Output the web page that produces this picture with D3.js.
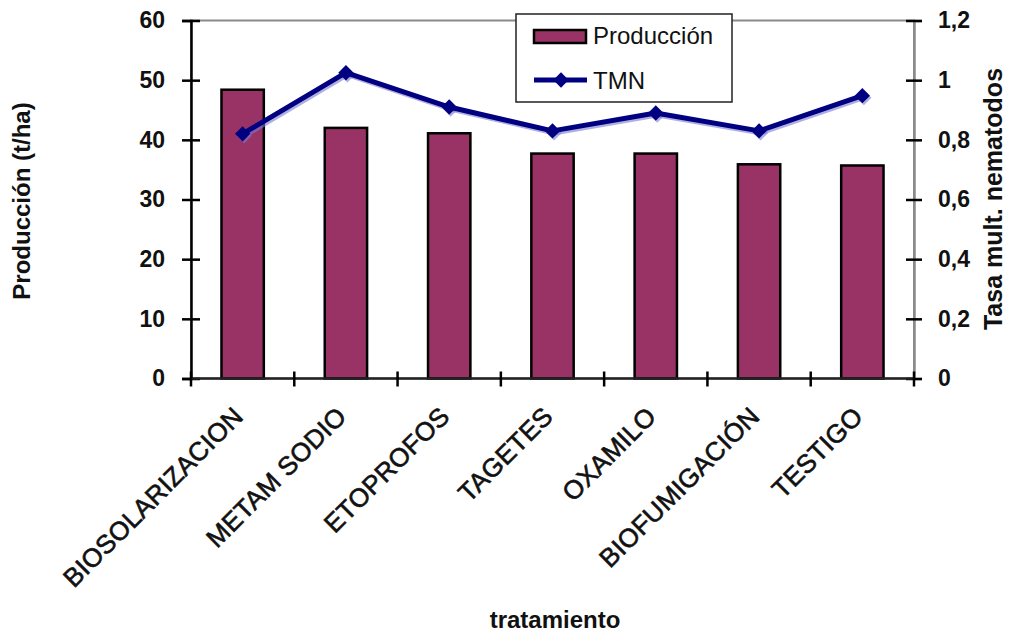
<!DOCTYPE html>
<html>
<head>
<meta charset="utf-8">
<script src="https://cdn.jsdelivr.net/npm/d3@7"></script>
<style>
  html, body { margin: 0; padding: 0; background: #fff; }
  svg { display: block; font-family: "Liberation Sans", Arial, sans-serif; }
</style>
</head>
<body>
<svg id="chart" width="1013" height="633"></svg>
<script>
// Treatments on the x axis
const categories = ["BIOSOLARIZACION", "METAM SODIO", "ETOPROFOS", "TAGETES", "OXAMILO", "BIOFUMIGACIÓN", "TESTIGO"];
// Yield per treatment (t/ha), left axis
const produccion = [48.4, 42.0, 41.1, 37.7, 37.7, 35.9, 35.7];
// Nematode multiplication rate, right axis
const tmn = [0.82, 1.025, 0.91, 0.83, 0.89, 0.83, 0.948];
// Tick values for both value axes
const leftTicks = [0, 10, 20, 30, 40, 50, 60];
const rightTicks = [0, 0.2, 0.4, 0.6, 0.8, 1.0, 1.2];

const svg = d3.select("#chart");
const plot = { left: 191, right: 914, top: 20.5, bottom: 378.5 };

const x = d3.scaleBand().domain(categories).range([plot.left, plot.right]).padding(0);
const yL = d3.scaleLinear().domain([0, 60]).range([plot.bottom, plot.top]);
const yR = d3.scaleLinear().domain([0, 1.2]).range([plot.bottom, plot.top]);

// Plot area frame
svg.append("rect")
  .attr("x", plot.left).attr("y", plot.top)
  .attr("width", plot.right - plot.left).attr("height", plot.bottom - plot.top)
  .attr("fill", "none").attr("stroke", "#8a8a8a").attr("stroke-width", 2);

// Bars
const barW = x.bandwidth() * 0.41;
svg.append("g").selectAll("rect")
  .data(categories)
  .join("rect")
  .attr("x", d => x(d) + x.bandwidth() / 2 - barW / 2)
  .attr("y", (d, i) => yL(produccion[i]))
  .attr("width", barW)
  .attr("height", (d, i) => yL(0) - yL(produccion[i]))
  .attr("fill", "#993366")
  .attr("stroke", "#000")
  .attr("stroke-width", 2.5);

// Left axis with ticks crossing the line
const axL = svg.append("g")
  .attr("transform", `translate(${plot.left},0)`)
  .call(d3.axisLeft(yL).tickValues(leftTicks).tickSize(9).tickPadding(17));
axL.select(".domain").attr("stroke", "#000").attr("stroke-width", 2.5);
axL.selectAll(".tick line").attr("x1", 9).attr("stroke", "#000").attr("stroke-width", 2.5);
axL.selectAll(".tick text")
  .attr("font-size", 23).attr("font-weight", "bold").attr("fill", "#111")
  .attr("font-family", "Liberation Sans, Arial, sans-serif");

// Right axis, decimal comma
const axR = svg.append("g")
  .attr("transform", `translate(${plot.right},0)`)
  .call(d3.axisRight(yR).tickValues(rightTicks).tickSize(8).tickPadding(16)
    .tickFormat(d => d3.format("~g")(d).replace(".", ",")));
axR.select(".domain").attr("stroke", "#8a8a8a").attr("stroke-width", 2.5);
axR.selectAll(".tick line").attr("x1", -8).attr("stroke", "#000").attr("stroke-width", 2.5);
axR.selectAll(".tick text")
  .attr("font-size", 23).attr("font-weight", "bold").attr("fill", "#111")
  .attr("font-family", "Liberation Sans, Arial, sans-serif");

// Category axis: ticks at band boundaries
const bounds = categories.map(c => x(c)).concat([plot.right]);
svg.append("line")
  .attr("x1", plot.left).attr("x2", plot.right)
  .attr("y1", plot.bottom).attr("y2", plot.bottom)
  .attr("stroke", "#222").attr("stroke-width", 2.5);
svg.append("g").selectAll("line")
  .data(bounds)
  .join("line")
  .attr("x1", d => d).attr("x2", d => d)
  .attr("y1", plot.bottom - 7).attr("y2", plot.bottom + 8)
  .attr("stroke", "#000").attr("stroke-width", 2.5);

// Rotated category labels
svg.append("g").selectAll("text")
  .data(categories)
  .join("text")
  .attr("transform", d => `translate(${x(d) + x.bandwidth() / 2 + 2},418) rotate(-45)`)
  .attr("text-anchor", "end")
  .attr("font-size", 26)
  .attr("letter-spacing", 0.2)
  .attr("fill", "#111")
  .attr("stroke", "#111").attr("stroke-width", 0.6)
  .text(d => d);

// TMN line with diamond markers
const line = d3.line()
  .x((d, i) => x(categories[i]) + x.bandwidth() / 2)
  .y(d => yR(d));
const diamond = d3.symbol().type(d3.symbolDiamond2).size(150);

const tmnG = svg.append("g");
// soft halo under the series
tmnG.append("path").datum(tmn)
  .attr("d", line).attr("transform", "translate(1.5,2)")
  .attr("fill", "none").attr("stroke", "#7a7ad0").attr("stroke-width", 5).attr("opacity", 0.6);
tmnG.append("g").selectAll("path")
  .data(tmn).join("path")
  .attr("d", diamond)
  .attr("transform", (d, i) => `translate(${x(categories[i]) + x.bandwidth() / 2 + 1.5},${yR(d) + 2})`)
  .attr("fill", "#7a7ad0").attr("opacity", 0.6);
tmnG.append("path").datum(tmn)
  .attr("d", line)
  .attr("fill", "none").attr("stroke", "#000080").attr("stroke-width", 5)
  .attr("stroke-linejoin", "round");
tmnG.append("g").selectAll("path")
  .data(tmn).join("path")
  .attr("d", diamond)
  .attr("transform", (d, i) => `translate(${x(categories[i]) + x.bandwidth() / 2},${yR(d)})`)
  .attr("fill", "#000080");

// Legend
const lg = svg.append("g");
lg.append("rect")
  .attr("x", 516).attr("y", 14).attr("width", 216).attr("height", 88)
  .attr("fill", "#fff").attr("stroke", "#222").attr("stroke-width", 1.5);
lg.append("rect")
  .attr("x", 534).attr("y", 30).attr("width", 52).attr("height", 13)
  .attr("fill", "#993366").attr("stroke", "#000").attr("stroke-width", 2.5);
lg.append("text").attr("x", 593).attr("y", 43.5)
  .attr("font-size", 24).attr("fill", "#111").text("Producción");
lg.append("line")
  .attr("x1", 534).attr("x2", 587).attr("y1", 80).attr("y2", 80)
  .attr("stroke", "#000080").attr("stroke-width", 5);
lg.append("path").attr("d", diamond)
  .attr("transform", "translate(561,80)").attr("fill", "#000080");
lg.append("text").attr("x", 593).attr("y", 88.5)
  .attr("font-size", 24).attr("fill", "#111").text("TMN");

// Axis titles
svg.append("text")
  .attr("transform", "translate(30,201) rotate(-90)")
  .attr("text-anchor", "middle").attr("font-size", 24).attr("font-weight", "bold")
  .attr("fill", "#111").text("Producción (t/ha)");
svg.append("text")
  .attr("transform", "translate(1002,199) rotate(-90)")
  .attr("text-anchor", "middle").attr("font-size", 25).attr("font-weight", "bold")
  .attr("fill", "#111").text("Tasa mult. nematodos");
svg.append("text")
  .attr("x", 555).attr("y", 628)
  .attr("text-anchor", "middle").attr("font-size", 24).attr("font-weight", "bold")
  .attr("fill", "#111").text("tratamiento");
</script>
</body>
</html>
